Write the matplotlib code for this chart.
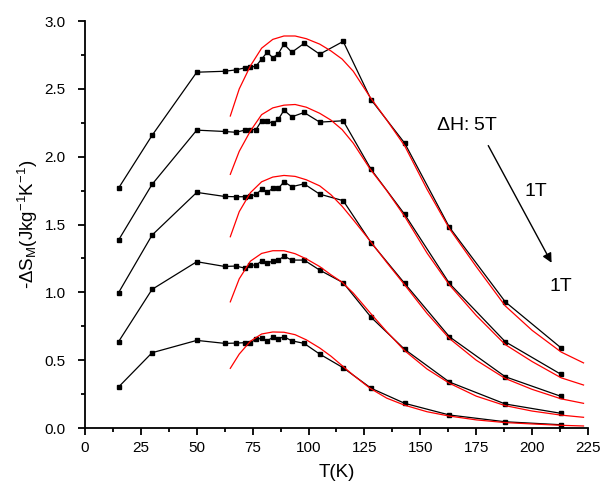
import numpy as np
import matplotlib
matplotlib.use("Agg")
import matplotlib.pyplot as plt
from matplotlib.ticker import MultipleLocator, FormatStrFormatter

plt.rcParams["font.family"] = ["Liberation Sans", "DejaVu Sans"]
plt.rcParams["mathtext.default"] = "regular"

# measured -dS_M vs T for field changes 5T ... 1T
T = [15, 30, 50, 62.5, 67.5, 71.5, 74, 76.5, 79, 81.5, 84, 86.5, 89, 92.5, 98,
     105, 115.5, 128, 143, 163, 188, 213]
dS_5T = [1.768, 2.157, 2.623, 2.63, 2.64, 2.655, 2.66, 2.668, 2.72, 2.77, 2.73,
         2.76, 2.83, 2.77, 2.835, 2.756, 2.85, 2.42, 2.10, 1.48, 0.93, 0.59]
dS_4T = [1.385, 1.796, 2.196, 2.186, 2.18, 2.196, 2.20, 2.20, 2.265, 2.265, 2.245,
         2.275, 2.343, 2.294, 2.326, 2.255, 2.265, 1.906, 1.575, 1.066, 0.636, 0.395]
dS_3T = [0.997, 1.422, 1.737, 1.707, 1.705, 1.705, 1.71, 1.722, 1.759, 1.739, 1.766,
         1.766, 1.815, 1.779, 1.80, 1.724, 1.676, 1.366, 1.066, 0.673, 0.378, 0.233]
dS_2T = [0.636, 1.022, 1.226, 1.191, 1.194, 1.179, 1.201, 1.201, 1.231, 1.213, 1.233,
         1.236, 1.267, 1.238, 1.238, 1.164, 1.071, 0.816, 0.58, 0.339, 0.177, 0.108]
dS_1T = [0.302, 0.555, 0.646, 0.624, 0.626, 0.629, 0.629, 0.654, 0.661, 0.643, 0.668,
         0.658, 0.673, 0.643, 0.624, 0.545, 0.444, 0.293, 0.182, 0.096, 0.046, 0.024]

# fitted curves (red)
T_fit = [65, 69, 74, 79, 84, 89, 94, 99, 105, 110, 115, 120, 127.5, 135, 143,
         153, 163, 175, 188, 200, 213, 223]
fit_5T = [2.30, 2.50, 2.67, 2.80, 2.865, 2.89, 2.89, 2.87, 2.83, 2.78, 2.72, 2.63,
          2.44, 2.27, 2.08, 1.76, 1.47, 1.19, 0.90, 0.72, 0.56, 0.48]
fit_4T = [1.87, 2.04, 2.19, 2.31, 2.36, 2.38, 2.385, 2.365, 2.32, 2.27, 2.20, 2.10,
          1.91, 1.75, 1.56, 1.29, 1.055, 0.83, 0.615, 0.49, 0.37, 0.317]
fit_3T = [1.41, 1.595, 1.735, 1.815, 1.85, 1.862, 1.855, 1.83, 1.785, 1.72, 1.635,
          1.535, 1.38, 1.22, 1.055, 0.845, 0.66, 0.50, 0.365, 0.285, 0.215, 0.182]
fit_2T = [0.93, 1.10, 1.23, 1.287, 1.307, 1.307, 1.285, 1.247, 1.19, 1.13, 1.075,
          0.995, 0.85, 0.71, 0.57, 0.435, 0.33, 0.235, 0.165, 0.125, 0.095, 0.079]
fit_1T = [0.44, 0.545, 0.64, 0.693, 0.708, 0.706, 0.688, 0.65, 0.59, 0.53, 0.46,
          0.39, 0.293, 0.22, 0.168, 0.12, 0.088, 0.06, 0.04, 0.03, 0.02, 0.015]

fig = plt.figure(figsize=(6.04, 4.90), dpi=100)
ax = fig.add_axes([0.1407, 0.1265, 0.8328, 0.8305])

for data in [dS_5T, dS_4T, dS_3T, dS_2T, dS_1T]:
    ax.plot(T, data, color="black", lw=0.9, marker="s", markersize=3.0)
for fit in [fit_5T, fit_4T, fit_3T, fit_2T, fit_1T]:
    ax.plot(T_fit, fit, color="red", lw=0.9)

ax.set_xlim(0, 225)
ax.set_ylim(0, 3.0)
ax.xaxis.set_major_locator(MultipleLocator(25))
ax.xaxis.set_minor_locator(MultipleLocator(12.5))
ax.yaxis.set_major_locator(MultipleLocator(0.5))
ax.yaxis.set_minor_locator(MultipleLocator(0.25))
ax.yaxis.set_major_formatter(FormatStrFormatter("%.1f"))
ax.spines["top"].set_visible(False)
ax.spines["right"].set_visible(False)
ax.spines["left"].set_linewidth(1.3)
ax.spines["bottom"].set_linewidth(1.3)
ax.tick_params(which="major", direction="out", length=5, width=1.3, labelsize=11)
ax.tick_params(which="minor", direction="out", length=3, width=1.3)
ax.tick_params(axis="y", which="major", pad=9)
ax.tick_params(axis="x", which="major", pad=4)

ax.set_xlabel("T(K)", fontsize=13.5, labelpad=7)
ax.set_ylabel(r"-$\Delta$S$_M$(Jkg$^{-1}$K$^{-1}$)", fontsize=13.5, labelpad=3)

ax.annotate("", xy=(209.3, 1.20), xytext=(179.8, 2.10),
            arrowprops=dict(arrowstyle="-|>", color="black", lw=1, mutation_scale=14))
ax.text(170.8, 2.233, r"$\Delta$H: 5T", fontsize=14, ha="center", va="center")
ax.text(201.7, 1.747, "1T", fontsize=14, ha="center", va="center")
ax.text(212.9, 1.04, "1T", fontsize=14, ha="center", va="center")

fig.savefig("out.png", dpi=100)
